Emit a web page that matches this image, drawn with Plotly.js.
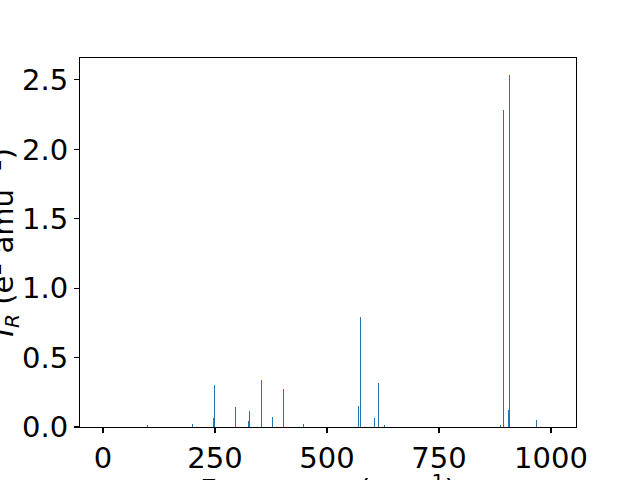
<!DOCTYPE html>
<html>
<head>
<meta charset="utf-8">
<script src="https://cdn.plot.ly/plotly-3.0.1.min.js"></script>
<style>html,body{margin:0;padding:0;background:#fff;}</style>
</head>
<body>
<div id="chart" style="width:640px;height:480px;"></div>
<script>
// Frequencies (cm^-1) and IR intensities
const frequencies = [100, 199, 246, 248, 295, 324, 326, 353, 378, 402, 447, 570, 574, 605, 614, 628, 887, 894, 905, 907, 967];
const intensities = [0.012, 0.019, 0.063, 0.305, 0.142, 0.041, 0.113, 0.336, 0.07, 0.271, 0.019, 0.149, 0.795, 0.063, 0.314, 0.012, 0.013, 2.283, 0.121, 2.532, 0.049];
const xTicks = [0, 250, 500, 750, 1000];
const yTicks = [0, 0.5, 1.0, 1.5, 2.0, 2.5];
const xTitle = "Frequency (cm<sup>−1</sup>)";
const yTitle = "<i>I</i><sub><i>R</i></sub> (e<sup>2</sup> amu<sup>−1</sup>)";

const fontFamily = "DejaVu Sans, sans-serif";
const titleFont = {family: fontFamily, size: 29, color: "#000"};

const trace = {
  type: "bar",
  x: frequencies,
  y: intensities,
  width: frequencies.map(() => 2.4),
  marker: {color: "#1f77b4", line: {width: 0}},
  hoverinfo: "x+y"
};

const axisCommon = {
  ticks: "outside",
  ticklen: 5,
  tickwidth: 1.1,
  tickcolor: "#000",
  showline: true,
  mirror: true,
  linecolor: "#000",
  linewidth: 1.1,
  showgrid: false,
  zeroline: false,
  tickfont: {family: fontFamily, size: 29, color: "#000"}
};

const layout = {
  width: 640,
  height: 480,
  margin: {l: 80, r: 64, t: 57.6, b: 52.8, pad: 0},
  paper_bgcolor: "#ffffff",
  plot_bgcolor: "#ffffff",
  showlegend: false,
  bargap: 0,
  font: {family: fontFamily, size: 29, color: "#000000"},
  xaxis: Object.assign({}, axisCommon, {
    range: [-51.3, 1055.8],
    tickvals: xTicks,
    ticktext: xTicks.map(String)
  }),
  yaxis: Object.assign({}, axisCommon, {
    range: [0, 2.658],
    tickvals: yTicks,
    ticktext: yTicks.map(v => v.toFixed(1))
  }),
  annotations: [
    {text: xTitle, xref: "paper", yref: "paper", x: 0.5, y: -0.165,
     xanchor: "center", yanchor: "middle", showarrow: false, font: titleFont},
    {text: yTitle, xref: "paper", yref: "paper", x: -0.157, y: 0.5, textangle: -90,
     xanchor: "center", yanchor: "middle", showarrow: false, font: titleFont}
  ]
};

Plotly.newPlot("chart", [trace], layout, {displayModeBar: false, staticPlot: true});
</script>
</body>
</html>
